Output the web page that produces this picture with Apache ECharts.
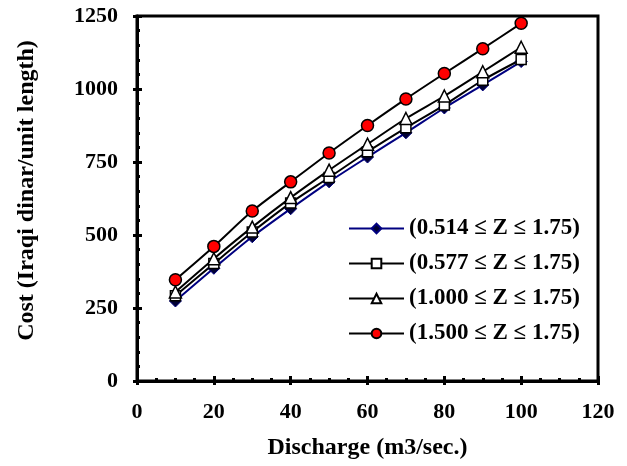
<!DOCTYPE html>
<html>
<head>
<meta charset="utf-8">
<script src="https://cdn.jsdelivr.net/npm/echarts@6/dist/echarts.min.js"></script>
<style>
html,body{margin:0;padding:0;background:#fff;}
#main{width:627px;height:466px;}
</style>
</head>
<body>
<div id="main"></div>
<script>
var discharge=[10,20,30,40,50,60,70,80,90,100];
var z0514=[274,386,494,590,682,767,850,935,1014,1094];
var z0577=[292,402,510,610,697,785,867,945,1030,1101];
var z1000=[305,419,527,628,722,811,899,976,1059,1143];
var z1500=[347,461,582,682,781,875,966,1053,1138,1225];
var names=["(0.514 ≤ Z ≤ 1.75)","(0.577 ≤ Z ≤ 1.75)","(1.000 ≤ Z ≤ 1.75)","(1.500 ≤ Z ≤ 1.75)"];

function pairs(ys){
	var out=[];
	for(var i=0;i<discharge.length;i++){
		out.push([discharge[i],ys[i]]);
	}
	return out;
}

var myChart=echarts.init(document.getElementById('main'));
var font="'Liberation Serif','Times New Roman',serif";
var option={
	animation:false,
	backgroundColor:'#fff',
	grid:{
		left:137,right:29,top:16,bottom:85,
		outerBoundsMode:'none',containLabel:false,
		show:true,borderColor:'#000',borderWidth:3
	},
	legend:{
		orient:'vertical',
		left:343,top:212,
		itemWidth:55,itemHeight:12,itemGap:12,
		textStyle:{fontFamily:font,fontSize:23,fontWeight:'bold',color:'#000'},
		data:names
	},
	xAxis:[{
		type:'value',min:0,max:120,interval:20,
		name:'Discharge (m3/sec.)',nameLocation:'middle',nameGap:55,
		nameTextStyle:{fontFamily:font,fontSize:24,fontWeight:'bold',color:'#000'},
		axisLine:{show:true,lineStyle:{color:'#000',width:3}},
		axisTick:{show:true,inside:true,length:5,lineStyle:{color:'#000',width:3}},
		minorTick:{show:true,splitNumber:4,length:3,lineStyle:{color:'#000',width:3}},
		axisLabel:{fontFamily:font,fontSize:22,fontWeight:'bold',color:'#000',margin:20},
		splitLine:{show:false}
	},{
		type:'value',min:0,max:120,interval:20,position:'bottom',
		axisLine:{show:false},
		axisTick:{show:true,inside:false,length:4,lineStyle:{color:'#000',width:3}},
		axisLabel:{show:false},
		splitLine:{show:false}
	}],
	yAxis:[{
		type:'value',min:0,max:1250,interval:250,
		name:'Cost (Iraqi dinar/unit length)',nameLocation:'middle',nameGap:98,
		nameTextStyle:{fontFamily:font,fontSize:24,fontWeight:'bold',color:'#000',padding:[0,0,0,16]},
		axisLine:{show:true,lineStyle:{color:'#000',width:3}},
		axisTick:{show:true,inside:true,length:5,lineStyle:{color:'#000',width:3}},
		minorTick:{show:true,splitNumber:5,length:3,lineStyle:{color:'#000',width:3}},
		axisLabel:{fontFamily:font,fontSize:22,fontWeight:'bold',color:'#000',margin:19,
			formatter:function(v){return String(v);}},
		splitLine:{show:false}
	},{
		type:'value',min:0,max:1250,interval:250,position:'left',
		axisLine:{show:false},
		axisTick:{show:true,inside:false,length:4,lineStyle:{color:'#000',width:3}},
		axisLabel:{show:false},
		splitLine:{show:false}
	}],
	series:[{
		name:names[0],type:'line',smooth:0.3,
		data:pairs(z0514),
		symbol:'diamond',symbolSize:12,
		lineStyle:{color:'#000080',width:2},
		itemStyle:{color:'#000033',borderColor:'#000080',borderWidth:1}
	},{
		name:names[1],type:'line',smooth:0.3,
		data:pairs(z0577),
		symbol:'rect',symbolSize:10,
		lineStyle:{color:'#000',width:2},
		itemStyle:{color:'#fff',borderColor:'#000',borderWidth:1.5}
	},{
		name:names[2],type:'line',smooth:0.3,
		data:pairs(z1000),
		symbol:'triangle',symbolSize:12,
		lineStyle:{color:'#000',width:2},
		itemStyle:{color:'#fff',borderColor:'#000',borderWidth:1.5}
	},{
		name:names[3],type:'line',smooth:0.3,
		data:pairs(z1500),
		symbol:'circle',symbolSize:12,
		lineStyle:{color:'#000',width:2},
		itemStyle:{color:'#ff0000',borderColor:'#000',borderWidth:1.5}
	}]
};
myChart.setOption(option);
</script>
</body>
</html>
